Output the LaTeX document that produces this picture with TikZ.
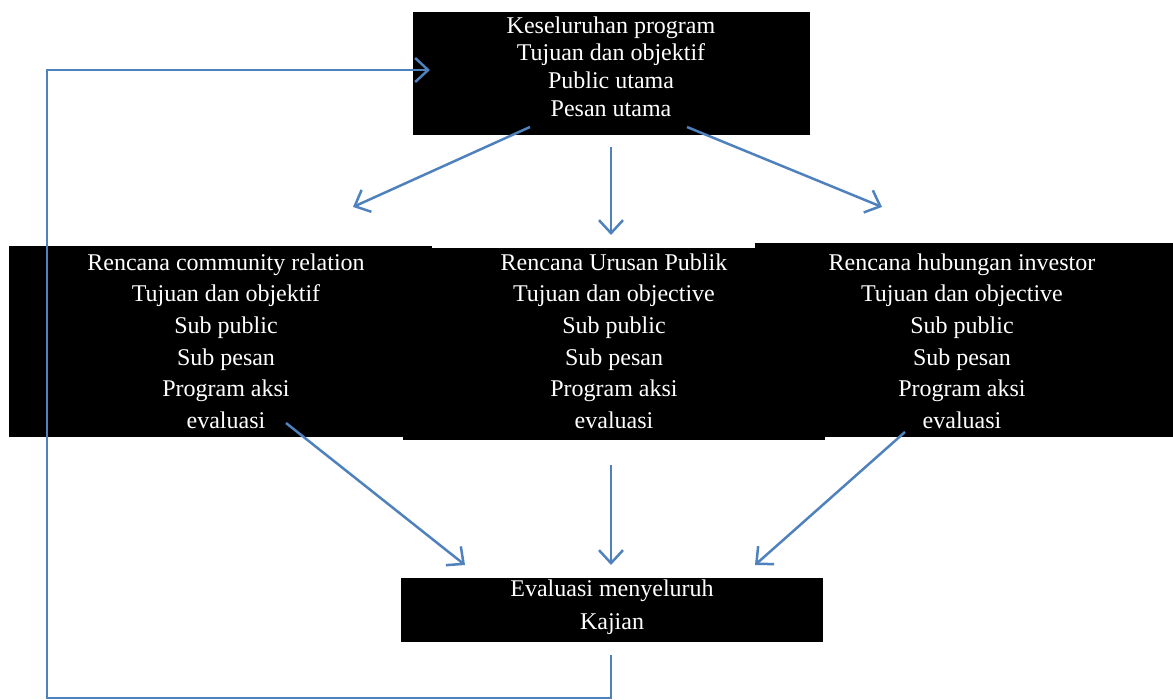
\documentclass[tikz,border=0pt]{standalone}
\usepackage{fontspec}
\setmainfont{Liberation Serif}
\usetikzlibrary{arrows.meta}
\definecolor{arrowblue}{RGB}{79,129,189}

\begin{document}
\begin{tikzpicture}[x=1pt, y=-1pt, very thick]
	\tikzstyle{box}  = [rectangle, fill=black, draw=none, inner sep=0pt]
	\tikzstyle{txt}  = [text=white, align=center, inner sep=0pt, font=\fontsize{24}{31.6}\selectfont]
	\tikzstyle{flow} = [draw=arrowblue, line width=2.5pt, line join=miter, -{Straight Barb[length=13pt,width=24pt,line width=2.5pt]}]

	\useasboundingbox (0,0) rectangle (1173,700);

	% black boxes
	\node[box, minimum width=397pt, minimum height=123pt] (prog) at (611.5,73.5) {};
	\node[box, minimum width=422pt, minimum height=192pt] (upBox) at (614,344) {};
	\node[box, minimum width=423pt, minimum height=191pt] (crBox) at (220.5,341.5) {};
	\node[box, minimum width=418pt, minimum height=194pt] (hiBox) at (964,340) {};
	\node[box, minimum width=422pt, minimum height=64pt] (evBox) at (612,610) {};

	% texts
	\node[txt, font=\fontsize{24}{27.7}\selectfont] (progTxt) at (611,66.5) {Keseluruhan program\\Tujuan dan objektif\\Public utama\\Pesan utama};
	\node[txt] (crTxt) at (226,341) {Rencana community relation\\Tujuan dan objektif\\Sub public\\Sub pesan\\Program aksi\\evaluasi};
	\node[txt] (upTxt) at (614,341) {Rencana Urusan Publik\\Tujuan dan objective\\Sub public\\Sub pesan\\Program aksi\\evaluasi};
	\node[txt] (hiTxt) at (962,341) {Rencana hubungan investor\\Tujuan dan objective\\Sub public\\Sub pesan\\Program aksi\\evaluasi};
	\node[txt, font=\fontsize{24}{33}\selectfont] (evTxt) at (612,607) {Evaluasi menyeluruh\\Kajian};

	% arrow ends
	\foreach \name/\x/\y in {outL/530/127, inCR/353/207, outM/611/147, inUP/611/235, outR/687/127, inHI/882/207,
		crOut/286/423, evL/465/565, upOut/611/465, evM/611/565, hiOut/905/432, evR/755/565,
		evOut/611/655, fbA/611/698, fbB/47/698, fbC/47/70, fbEnd/430/70}
		\coordinate (\name) at (\x, \y);

	\foreach \from/\to in {outL/inCR, outM/inUP, outR/inHI, crOut/evL, upOut/evM, hiOut/evR}
		\draw[flow] (\from) -- (\to);

	% feedback loop
	\draw[flow] (evOut) -- (fbA) -- (fbB) -- (fbC) -- (fbEnd);
\end{tikzpicture}
\end{document}
